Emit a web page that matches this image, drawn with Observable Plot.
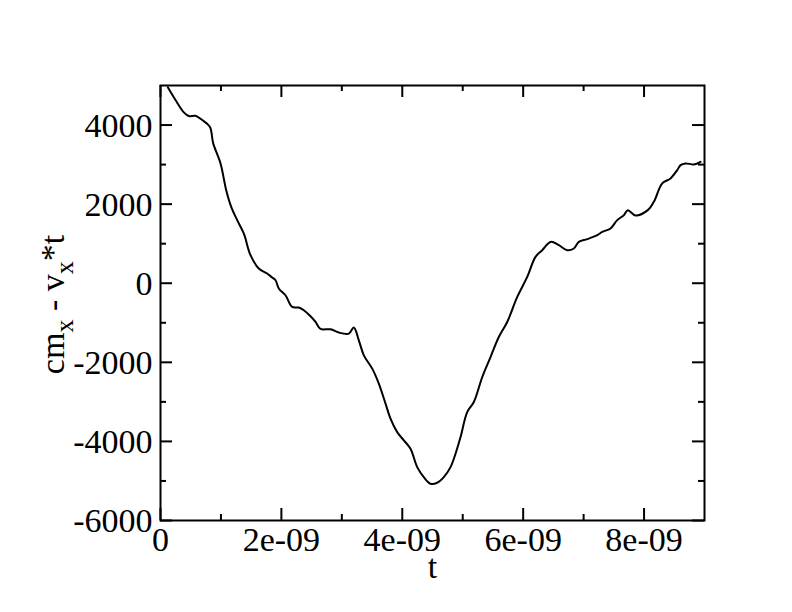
<!DOCTYPE html>
<html><head><meta charset="utf-8">
<script src="https://cdn.jsdelivr.net/npm/d3@7"></script>
<script src="https://cdn.jsdelivr.net/npm/@observablehq/plot@0.6"></script>
<style>body{margin:0;background:#fff} svg{display:block}</style>
</head><body><div id="chart"></div>
<script>
// t in units of 1e-9
const tNs = [0.121,0.248,0.386,0.468,0.579,0.690,0.816,0.872,0.993,1.087,1.170,1.269,1.378,1.489,1.626,1.765,1.848,1.903,1.957,2.068,2.179,2.288,2.371,2.482,2.565,2.647,2.813,2.950,3.116,3.198,3.281,3.364,3.503,3.612,3.723,3.805,3.916,4.026,4.136,4.247,4.356,4.467,4.578,4.687,4.798,4.881,4.964,5.074,5.184,5.323,5.460,5.597,5.736,5.902,6.067,6.204,6.315,6.453,6.590,6.729,6.838,6.921,7.060,7.225,7.308,7.445,7.556,7.665,7.731,7.859,8.062,8.162,8.301,8.438,8.549,8.604,8.686,8.824,8.934];
const cmx = [4954,4633,4321,4228,4235,4126,3957,3537,3030,2354,1932,1595,1258,709,372,245,144,76,-134,-304,-600,-615,-684,-836,-980,-1157,-1165,-1248,-1274,-1122,-1443,-1823,-2160,-2539,-3046,-3425,-3765,-3975,-4185,-4651,-4904,-5071,-5046,-4904,-4651,-4311,-3891,-3258,-3005,-2372,-1866,-1360,-980,-347,159,666,835,1045,962,835,878,1045,1114,1215,1298,1385,1595,1721,1848,1714,1848,2058,2524,2650,2861,2987,3030,3005,3071];
const xMajor = [0,2,4,6,8];
const xTickLabels = ["0","2e-09","4e-09","6e-09","8e-09"];
const xMinor = [1,3,5,7];
const yMajor = [-6000,-4000,-2000,0,2000,4000];
const yTickLabels = ["-6000","-4000","-2000","0","2000","4000"];
const yMinor = [-5000,-3000,-1000,1000,3000];
const xLabel = "t";

const FONT = "Liberation Serif";
const data = tNs.map((t,i)=>({t, v: cmx[i]}));
const W=792,H=612, mL=160,mR=88,mT=85,mB=92;
const pw = W-mL-mR, ph = H-mT-mB;
const major = 12, minor = 6;
const FS = 34;
const tickStyle = {stroke:"#000", strokeWidth:2};
const textStyle = {fontSize:FS, fontFamily:FONT, fill:"#000"};
const plot = Plot.plot({
  width:W, height:H, marginLeft:mL, marginRight:mR, marginTop:mT, marginBottom:mB,
  x:{domain:[0,9], axis:null},
  y:{domain:[-6000,5000], axis:null},
  style:{background:"#fff", overflow:"visible"},
  marks:[
    Plot.line(data,{x:"t", y:"v", stroke:"#000", strokeWidth:2, curve:"catmull-rom"}),
    Plot.tickX(xMajor,{x:d=>d, insetTop: ph-major, ...tickStyle}),
    Plot.tickX(xMajor,{x:d=>d, insetBottom: ph-major, ...tickStyle}),
    Plot.tickX(xMinor,{x:d=>d, insetTop: ph-minor, ...tickStyle}),
    Plot.tickX(xMinor,{x:d=>d, insetBottom: ph-minor, ...tickStyle}),
    Plot.tickY(yMajor,{y:d=>d, insetRight: pw-major, ...tickStyle}),
    Plot.tickY(yMajor,{y:d=>d, insetLeft: pw-major, ...tickStyle}),
    Plot.tickY(yMinor,{y:d=>d, insetRight: pw-minor, ...tickStyle}),
    Plot.tickY(yMinor,{y:d=>d, insetLeft: pw-minor, ...tickStyle}),
    Plot.frame({stroke:"#000", strokeWidth:2}),
    Plot.text(xMajor,{x:d=>d, text:(d,i)=>xTickLabels[i], frameAnchor:"bottom", lineAnchor:"top", dy:6, ...textStyle}),
    Plot.text(yMajor,{y:d=>d, text:(d,i)=>yTickLabels[i], frameAnchor:"left", textAnchor:"end", dx:-8, dy:1, ...textStyle}),
    Plot.text([xLabel],{text:d=>d, frameAnchor:"bottom", lineAnchor:"top", dy:33, ...textStyle})
  ]
});
document.getElementById("chart").appendChild(plot);
// y-axis label with subscripts
const svg = d3.select(plot);
const yl = svg.append("text")
  .attr("transform", `translate(64,${mT+ph/2+2}) rotate(-90)`)
  .attr("text-anchor","middle")
  .attr("font-size", FS)
  .attr("fill","#000");
yl.append("tspan").text("cm");
yl.append("tspan").attr("dy", 9).attr("font-size",26).text("x");
yl.append("tspan").attr("dy", -9).text(" - v");
yl.append("tspan").attr("dy", 9).attr("font-size",26).text("x");
yl.append("tspan").attr("dy", -9).text("*t");
svg.selectAll("text, tspan").attr("font-family", FONT).style("font-family", `"${FONT}", serif`);
</script>
</body></html>
